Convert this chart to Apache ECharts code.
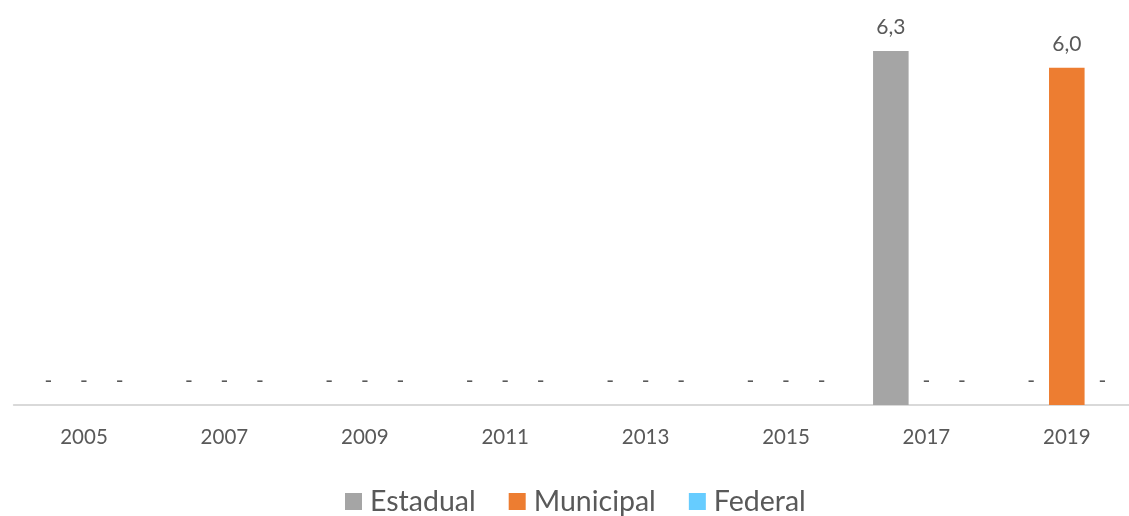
<!DOCTYPE html>
<html>
<head>
<meta charset="utf-8">
<script src="https://cdn.jsdelivr.net/npm/echarts@6/dist/echarts.min.js"></script>
<style>
  html, body { margin: 0; padding: 0; background: #ffffff; overflow: hidden; }
  #chart { width: 1150px; height: 516px; }
</style>
</head>
<body>
<div id="chart"></div>
<script>
// Years on the category axis
const years = ['2005', '2007', '2009', '2011', '2013', '2015', '2017', '2019'];
// Values per administrative sphere (0 is shown as "-")
const estadual = [0, 0, 0, 0, 0, 0, 6.3, 0];
const municipal = [0, 0, 0, 0, 0, 0, 0, 6.0];
const federal = [0, 0, 0, 0, 0, 0, 0, 0];

const FONT = 'Lato';
const TEXT = '#595959';

function fmt(p) {
  return p.value === 0 ? '-' : p.value.toFixed(1).replace('.', ',');
}

function bar(name, data, color) {
  return {
    name: name,
    type: 'bar',
    data: data,
    barGap: '0%',
    barCategoryGap: '24%',
    itemStyle: { color: color },
    label: {
      show: true,
      position: 'top',
      distance: 13,
      formatter: fmt,
      color: TEXT,
      fontFamily: FONT,
      fontSize: 21
    }
  };
}

const chart = echarts.init(document.getElementById('chart'), null, { renderer: 'canvas' });
chart.setOption({
  animation: false,
  backgroundColor: '#ffffff',
  // the plot area runs slightly past the right edge of the visible page
  grid: { left: 13.8, right: 13, top: 11.6, bottom: 111, containLabel: false },
  xAxis: {
    type: 'category',
    data: years,
    axisLine: { lineStyle: { color: '#D9D9D9', width: 2 } },
    axisTick: { show: false },
    axisLabel: { color: TEXT, fontFamily: FONT, fontSize: 20.5, margin: 22 }
  },
  yAxis: {
    type: 'value',
    min: 0,
    max: 7,
    show: false,
    splitLine: { show: false }
  },
  legend: {
    bottom: -5,
    left: 340,
    itemWidth: 17,
    itemHeight: 17,
    itemGap: 33,
    icon: 'rect',
    textStyle: { color: TEXT, fontFamily: FONT, fontSize: 28.5, padding: [0, 0, 0, 3] },
    data: ['Estadual', 'Municipal', 'Federal']
  },
  series: [
    bar('Estadual', estadual, '#A5A5A5'),
    bar('Municipal', municipal, '#ED7D31'),
    bar('Federal', federal, '#66CCFF')
  ]
});
</script>
</body>
</html>
